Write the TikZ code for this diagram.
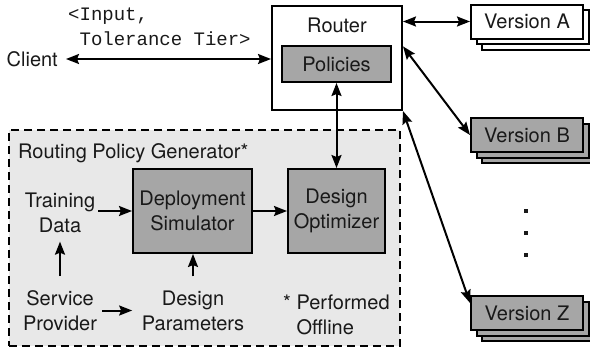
\documentclass[tikz,border=0pt]{standalone}
\usepackage{fontspec}
\setmainfont{TeX Gyre Heros}
\setmonofont{Liberation Mono}
\usetikzlibrary{arrows.meta,shadows,calc}
\begin{document}
\begin{tikzpicture}[x=1bp,y=-1bp,
  every node/.style={font=\fontsize{20bp}{25bp}\selectfont, text=black!90, inner sep=0pt},
  frame/.style={draw=black, line width=2bp},
  graybox/.style={frame, fill=black!35},
  verbox/.style={frame, fill=#1, minimum width=112bp, minimum height=34bp,
    copy shadow={shadow xshift=11bp, shadow yshift=-11bp, draw=black, fill=#1, line width=2bp},
    copy shadow={shadow xshift=5.5bp, shadow yshift=-5.5bp, draw=black, fill=#1, line width=2bp}},
  tipA/.tip={Stealth[length=13bp,width=10bp,inset=2bp]},
  arr/.style={line width=2bp, -tipA},
  darr/.style={line width=2bp, tipA-tipA},
  dotmark/.style={fill=black!90}
]
\useasboundingbox (0,0) rectangle (590,352);

% Routing policy generator container
\node[draw=black, line width=2bp, dash pattern=on 8bp off 5bp, fill=black!9,
      minimum width=391bp, minimum height=216bp] (rpg) at (204.5,238) {};
\node[anchor=base west] (rpgtitle) at (18,158) {Routing Policy Generator*};

% Router
\node[frame, fill=white, minimum width=130bp, minimum height=104bp] (router) at (337,58) {};
\node (routerlbl) at (337,25) {Router};
\node[graybox, minimum width=109bp, minimum height=36bp] (pol) at (336.5,64) {Policies};

% Client
\node[anchor=east] (client) at (58,59) {Client};
\node[anchor=base west, align=left, font=\ttfamily\fontsize{19bp}{25bp}\selectfont] (io) at (68,45)
  {<Input,\\\phantom{<}Tolerance Tier>};

% Versions
\node[verbox=white] (va) at (527,21.5) {Version A};
\node[verbox=black!35] (vb) at (527,135) {Version B};
\node[verbox=black!35] (vz) at (527,313) {Version Z};
\fill[dotmark] (524,209) rectangle ++(4,4);
\fill[dotmark] (524,231) rectangle ++(4,4);
\fill[dotmark] (524,253) rectangle ++(4,4);

% Generator internals
\node[graybox, minimum width=119bp, minimum height=84bp, align=center] (ds) at (192.5,211) {Deployment\\Simulator};
\node[graybox, minimum width=97bp, minimum height=84bp, align=center] (do) at (336.5,211) {Design\\Optimizer};
\node[align=center] (td) at (60,212.5) {Training\\Data};
\node[align=center] (sp) at (60,310.5) {Service\\Provider};
\node[align=center] (dp) at (193,310.5) {Design\\Parameters};
\node[anchor=west, align=left] (note) at (283,315.2) {* Performed\\\phantom{* }Offline};

% Connectors
\draw[darr, shorten <=8bp] (client.east) -- (client.east -| router.west);
\draw[darr] (router.east |- va.west) -- (va.west);
\draw[darr] (router.10) -- (vb.west);
\draw[darr] (router.south east) -- (vz.170);
\draw[darr] (pol.south) -- (pol.south |- do.north);
\draw[arr, shorten <=3bp] (td.east |- ds.west) -- (ds.west);
\draw[arr] (ds.east) -- (do.west);
\draw[arr, shorten <=14bp, shorten >=9bp] (sp.north) -- (td.south);
\draw[arr, shorten <=14bp] (dp.north) -- (dp.north |- ds.south);
\draw[arr, shorten <=5bp, shorten >=9.5bp] (sp.east) -- (sp.east -| dp.west);
\end{tikzpicture}
\end{document}
